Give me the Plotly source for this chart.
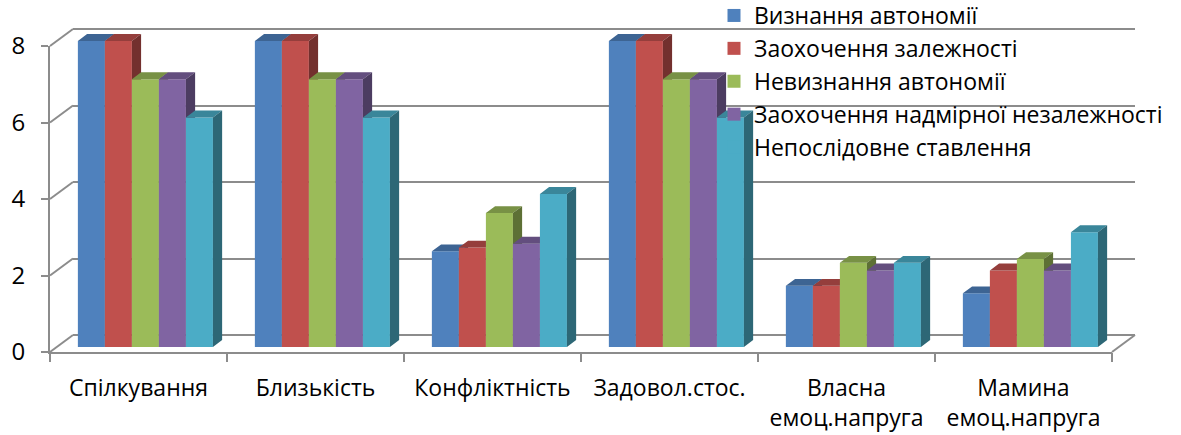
import plotly.graph_objects as go

# ---------------- data ----------------
categories = ["Спілкування", "Близькість", "Конфліктність", "Задовол.стос.",
              "Власна<br>емоц.напруга", "Мамина<br>емоц.напруга"]
series_names = ["Визнання автономії", "Заохочення залежності", "Невизнання автономії",
                "Заохочення надмірної незалежності", "Непослідовне ставлення"]
vyznannia = [8, 8, 2.5, 8, 1.6, 1.4]
zaokhochennia_zal = [8, 8, 2.6, 8, 1.6, 2.0]
nevyznannia = [7, 7, 3.5, 7, 2.2, 2.3]
zaokhochennia_nadm = [7, 7, 2.7, 7, 2.0, 2.0]
neposlidovne = [6, 6, 4.0, 6, 2.2, 3.0]
y_ticks = [0, 2, 4, 6, 8]

series_values = [vyznannia, zaokhochennia_zal, nevyznannia, zaokhochennia_nadm, neposlidovne]
colors = ["#4F81BD", "#C0504D", "#9BBB59", "#8064A2", "#4BACC6"]

# ---------------- geometry (pixels) ----------------
W, H = 1181, 435
FX0, FX1 = 50, 1112        # front plane x extent
FY0, FY8 = 352, 46         # front plane y of value 0 and value 8
DX, DY = 23, -17           # full depth of the 3-D box
UNIT = (FY0 - FY8) / 8.0   # px per value unit
NCAT = len(categories)
XPX = (FX1 - FX0) / NCAT   # px per category
GROUP = 0.763              # group width (fraction of category)
FRONT_DEPTH, BACK_DEPTH = 0.3, 0.7
YMAX_BARS = 9.0
PADV = 0.03                # small range padding so edge gridlines are drawn
GRAY = "#8c8c8c"
FONT = "Open Sans"


def fx(px):
    return px / W


def fy(py):
    return 1 - py / H


def shade(hexc, f):
    h = hexc.lstrip("#")
    r, g, b = (int(h[i:i + 2], 16) for i in (0, 2, 4))
    return "rgb(%d,%d,%d)" % (r * f, g * f, b * f)


fig = go.Figure()

# legend entries
for name, c in zip(series_names, colors):
    fig.add_trace(go.Scatter(x=[None], y=[None], mode="markers", name=name,
                             marker=dict(symbol="square", size=13, color=c),
                             xaxis="x", yaxis="y"))

# 3-D bars (front / top / side faces), computed from data through the bar axes
w = GROUP / len(series_names)
du = (BACK_DEPTH - FRONT_DEPTH) * DX / XPX
dv = (BACK_DEPTH - FRONT_DEPTH) * (-DY) / UNIT
for i, (vals, c) in enumerate(zip(series_values, colors)):
    fxs, fys, txs, tys, sxs, sys_ = [], [], [], [], [], []
    for ci, v in enumerate(vals):
        x0 = ci - GROUP / 2 + i * w
        x1 = x0 + w
        fxs += [x0, x1, x1, x0, x0, None]
        fys += [0, 0, v, v, 0, None]
        txs += [x0, x1, x1 + du, x0 + du, x0, None]
        tys += [v, v, v + dv, v + dv, v, None]
        sxs += [x1, x1 + du, x1 + du, x1, x1, None]
        sys_ += [0, dv, v + dv, v, 0, None]
    for xs, ys, col in ((fxs, fys, c), (txs, tys, shade(c, 0.78)), (sxs, sys_, shade(c, 0.6))):
        fig.add_trace(go.Scatter(x=xs, y=ys, mode="lines", fill="toself", fillcolor=col,
                                 line=dict(width=0, color=col), hoverinfo="skip",
                                 showlegend=False, xaxis="x2", yaxis="y2"))

# invisible traces so the front-axis subplot and its tick overlay exist
fig.add_trace(go.Scatter(x=[None], y=[None], showlegend=False, hoverinfo="skip",
                         xaxis="x3", yaxis="y3"))
fig.add_trace(go.Scatter(x=[None], y=[None], showlegend=False, hoverinfo="skip",
                         xaxis="x4", yaxis="y3"))

# ---------------- axes ----------------
bx0, bx1 = FX0 + DX, FX1 + DX
by0 = FY0 + DY
px0, px1 = FX0 + FRONT_DEPTH * DX, FX1 + FRONT_DEPTH * DX
py0 = FY0 + FRONT_DEPTH * DY
pytop = py0 - YMAX_BARS * UNIT

fig.update_layout(
    width=W, height=H,
    margin=dict(l=0, r=0, t=0, b=0, pad=0, autoexpand=False),
    paper_bgcolor="white", plot_bgcolor="rgba(0,0,0,0)",
    font=dict(family=FONT, color="black", size=23),
    showlegend=True,
    hovermode=False,
    legend=dict(x=fx(714), y=fy(-6), xanchor="left", yanchor="top",
                bgcolor="rgba(0,0,0,0)", font=dict(size=23, family=FONT),
                itemwidth=30),
    xaxis=dict(domain=[fx(bx0), fx(bx1)], range=[-0.5, NCAT - 0.5], anchor="y",
               showgrid=False, zeroline=False, showline=False, showticklabels=False,
               ticks="", automargin=False),
    yaxis=dict(domain=[fy(by0 + PADV * UNIT), fy(by0 - (8 + PADV) * UNIT)],
               range=[-PADV, 8 + PADV], anchor="x",
               tickmode="array", tickvals=y_ticks, showgrid=True, gridcolor=GRAY, gridwidth=2,
               zeroline=False, showline=False, showticklabels=False, ticks="",
               automargin=False),
    xaxis2=dict(domain=[fx(px0), fx(px1)], range=[-0.5, NCAT - 0.5], anchor="y2",
                visible=False, automargin=False),
    yaxis2=dict(domain=[fy(py0), fy(pytop)], range=[0, YMAX_BARS], anchor="x2",
                visible=False, automargin=False),
    xaxis3=dict(domain=[fx(FX0), fx(FX1)], range=[-0.5, NCAT - 0.5], anchor="y3",
                tickmode="array", tickvals=list(range(NCAT)), ticktext=categories,
                ticks="", showline=True, linecolor=GRAY, linewidth=2,
                showgrid=False, zeroline=False, ticklabelstandoff=14, automargin=False,
                tickfont=dict(size=23, family=FONT, color="black")),
    xaxis4=dict(overlaying="x3", anchor="y3", side="bottom", range=[-0.5, NCAT - 0.5],
                tickmode="array", tickvals=[k - 0.5 for k in range(NCAT + 1)],
                showticklabels=False, ticks="outside", ticklen=9, tickwidth=2,
                tickcolor=GRAY, showline=False, showgrid=False, zeroline=False,
                automargin=False),
    yaxis3=dict(domain=[fy(FY0), fy(FY8)], range=[0, 8], anchor="x3",
                tickmode="array", tickvals=y_ticks, ticks="outside", ticklen=7,
                tickwidth=2, tickcolor=GRAY, showline=True, linecolor=GRAY, linewidth=2,
                showgrid=False, zeroline=False, ticklabelstandoff=11, automargin=False,
                tickfont=dict(size=24, family=FONT, color="black")),
)

# left wall connectors and right floor edge
shapes = []
for t in y_ticks:
    yy = FY0 - t * UNIT
    shapes.append(dict(type="line", xref="paper", yref="paper",
                       x0=fx(FX0), y0=fy(yy), x1=fx(FX0 + DX), y1=fy(yy + DY),
                       line=dict(color=GRAY, width=2), layer="below"))
shapes.append(dict(type="line", xref="paper", yref="paper",
                   x0=fx(FX1), y0=fy(FY0), x1=fx(FX1 + DX), y1=fy(FY0 + DY),
                   line=dict(color=GRAY, width=2), layer="below"))
fig.update_layout(shapes=shapes)

fig.write_html("out.html", config={"displayModeBar": False},
               post_script="document.body.style.margin='0';document.body.style.overflow='hidden';")
